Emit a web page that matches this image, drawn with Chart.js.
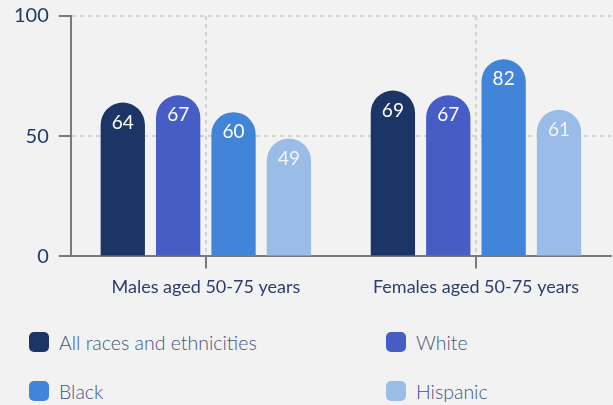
<!DOCTYPE html>
<html>
<head>
<meta charset="utf-8">
<script src="https://cdn.jsdelivr.net/npm/chart.js@4"></script>
<style>
  body { margin: 0; background: #f2f2f2; font-family: Lato, sans-serif; }
  #wrap { position: relative; width: 613px; height: 405px; }
  #box { position: absolute; left: 0; top: 0; width: 613px; height: 306px; }
  #legend { position: absolute; left: 29px; top: 332px; display: grid;
            grid-template-columns: 357px auto; row-gap: 29px; }
  .item { display: flex; align-items: center; height: 20px; font-size: 19.5px; font-weight: 300; color: #44567f; }
  .sw { width: 20px; height: 20px; border-radius: 5px; margin-right: 10px; }
</style>
</head>
<body>
<div id="wrap">
  <div id="box"><canvas id="myChart"></canvas></div>
  <div id="legend"></div>
</div>
<script>
let groups = ['Males aged 50-75 years', 'Females aged 50-75 years']
let seriesNames = ['All races and ethnicities', 'White', 'Black', 'Hispanic']
let allRaces = [64, 69]
let white = [67, 67]
let black = [60, 82]
let hispanic = [49, 61]
let yTicks = [0, 50, 100]
let colors = ['#1d3566', '#475dc6', '#4285d8', '#99bde7']

let seriesValues = [allRaces, white, black, hispanic]

// white numbers inside the top of each bar
let valueLabels = {
    id: 'valueLabels',
    afterDatasetsDraw(chart) {
        let ctx = chart.ctx
        ctx.save()
        ctx.font = '19px Lato'
        ctx.textAlign = 'center'
        ctx.textBaseline = 'middle'
        chart.data.datasets.forEach(function (ds, i) {
            chart.getDatasetMeta(i).data.forEach(function (bar, j) {
                ctx.fillStyle = i == 3 ? 'rgba(255,255,255,0.85)' : '#ffffff'
                ctx.fillText(ds.data[j], bar.x, bar.y + 20)
            })
        })
        ctx.restore()
    }
}

let datasets = seriesNames.map(function (name, i) {
    return {
        label: name,
        data: seriesValues[i],
        backgroundColor: colors[i],
        borderRadius: 30,
        barPercentage: 0.8,
        categoryPercentage: 0.82
    }
})

let chart = new Chart(document.getElementById('myChart').getContext('2d'), {
    type: 'bar',
    data: { labels: groups, datasets: datasets },
    options: {
        responsive: true,
        maintainAspectRatio: false,
        animation: false,
        layout: { padding: { left: 4, top: 0, right: 2, bottom: 0 } },
        plugins: { legend: { display: false }, tooltip: { enabled: false } },
        scales: {
            x: {
                grid: { offset: false, color: '#d2d2d2', lineWidth: 2, tickColor: '#7a7a7a',
                        tickWidth: 2, tickLength: 12 },
                border: { color: '#7a7a7a', width: 2, dash: [4, 4] },
                ticks: { color: '#2c3e6b', font: { family: 'Lato', size: 18 }, padding: 8 }
            },
            y: {
                min: 0,
                max: 100,
                afterBuildTicks: function (axis) {
                    axis.ticks = yTicks.map(function (v) { return { value: v } })
                },
                grid: { color: '#d2d2d2', lineWidth: 2, tickColor: '#7a7a7a',
                        tickWidth: 2, tickLength: 12 },
                border: { color: '#7a7a7a', width: 2, dash: [4, 4] },
                ticks: { color: '#1e3a6e', font: { family: 'Lato', size: 20, lineHeight: 1.2 }, padding: 10 },
                afterFit: function (axis) { axis.paddingTop = 16 }
            }
        }
    },
    plugins: [valueLabels]
})

let legend = document.getElementById('legend')
seriesNames.forEach(function (name, i) {
    let item = document.createElement('div')
    item.className = 'item'
    item.innerHTML = '<span class="sw" style="background:' + colors[i] + '"></span>' + name
    legend.appendChild(item)
})
</script>
</body>
</html>
